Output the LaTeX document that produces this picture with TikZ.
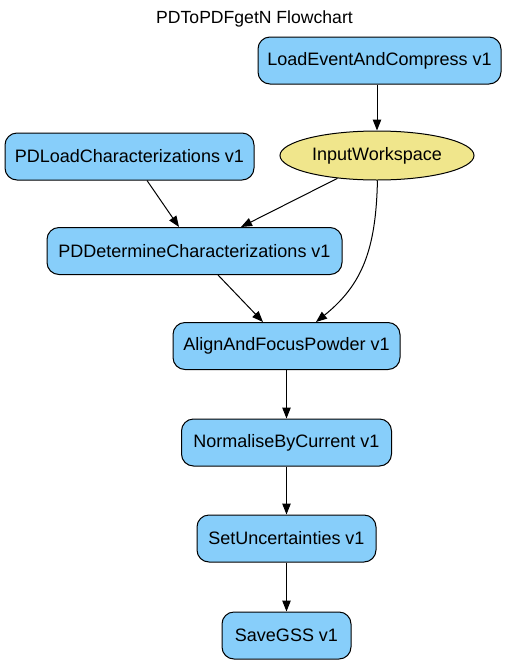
\documentclass[tikz,border=0pt]{standalone}
\usepackage{fontspec}
\setmainfont{Liberation Sans}
\usetikzlibrary{shapes.geometric,arrows.meta}
\definecolor{boxblue}{HTML}{87CEFA}
\definecolor{khakiY}{HTML}{F0E68C}
\tikzset{
  algo/.style={draw=black, line width=1pt, fill=boxblue, rounded corners=12pt,
    minimum height=47pt, inner sep=0pt, font=\fontsize{18}{20}\selectfont},
  wsnode/.style={draw=black, line width=1pt, fill=khakiY, ellipse,
    minimum width=194pt, minimum height=49pt, inner sep=0pt, font=\fontsize{18}{20}\selectfont},
  edge/.style={draw=black, line width=1pt, -{Triangle[length=11pt,width=8.5pt]}},
}
\begin{document}
\begin{tikzpicture}[x=1pt,y=-1pt]
\useasboundingbox (0,0) rectangle (509,665);
\node[font=\fontsize{17.6}{20}\selectfont] (title) at (254.5,19) {PDToPDFgetN Flowchart};
\node[algo, minimum width=243pt] (load) at (379.5,60.5) {LoadEventAndCompress v1};
\node[wsnode] (ws) at (377,155.5) {InputWorkspace};
\node[algo, minimum width=249pt] (pdload) at (129.5,156.5) {PDLoadCharacterizations v1};
\node[algo, minimum width=295pt] (pddet) at (194.5,251) {PDDetermineCharacterizations v1};
\node[algo, minimum width=227pt] (align) at (286.5,346) {AlignAndFocusPowder v1};
\node[algo, minimum width=210pt] (norm) at (286.5,442.5) {NormaliseByCurrent v1};
\node[algo, minimum width=179pt] (unc) at (286.5,538.5) {SetUncertainties v1};
\node[algo, minimum width=129pt] (gss) at (286.5,635.5) {SaveGSS v1};
\draw[edge] (load.south -| ws.north) -- (ws.north);
\draw[edge] (pdload.south -| 147,0) -- (pddet.north -| 179,0);
\draw[edge] (ws.-150) -- (pddet.north -| 241,0);
\draw[edge] (ws.-89) .. controls (376,250) and (362,285) .. (align.north -| 316,0);
\draw[edge] (pddet.south -| 218,0) -- (align.north -| 263,0);
\draw[edge] (align.south) -- (norm.north);
\draw[edge] (norm.south) -- (unc.north);
\draw[edge] (unc.south) -- (gss.north);
\end{tikzpicture}
\end{document}
